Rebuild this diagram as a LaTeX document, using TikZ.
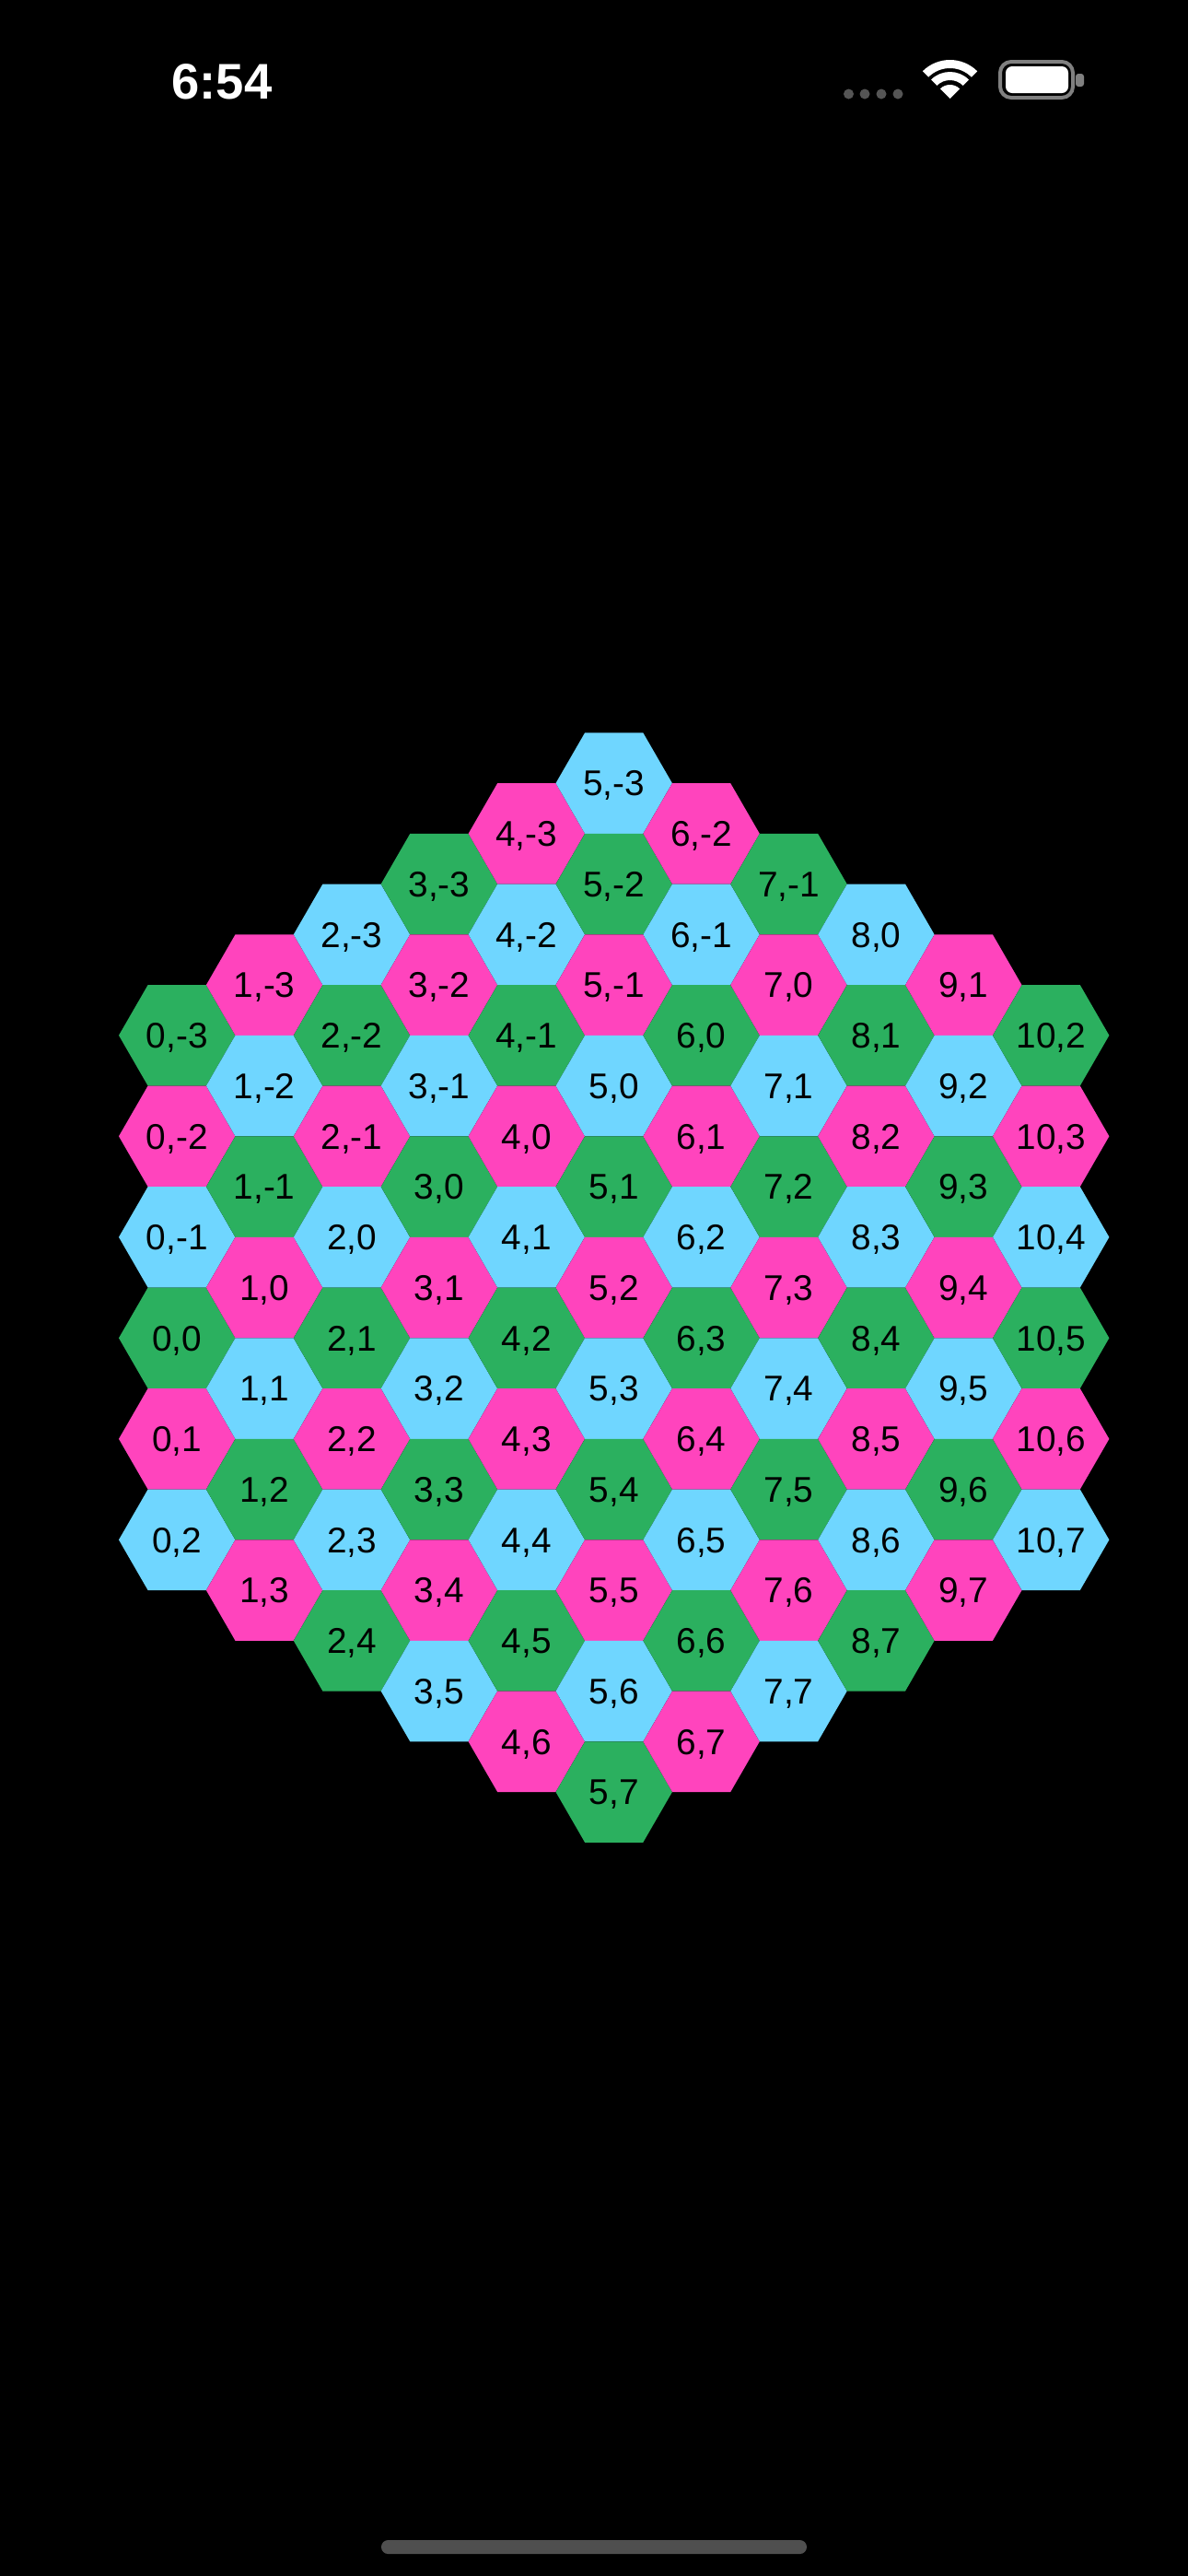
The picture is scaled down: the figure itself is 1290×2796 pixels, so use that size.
\documentclass[tikz,border=0pt]{standalone}
\usepackage{fontspec}
\setmainfont{Liberation Sans}
\usetikzlibrary{shapes.geometric}
\definecolor{hexblue}{HTML}{6FD6FF}
\definecolor{hexpink}{HTML}{FF44BD}
\definecolor{hexgreen}{HTML}{2BB05F}
\definecolor{dotgray}{HTML}{555555}
\definecolor{rimgray}{HTML}{808080}
\definecolor{bargray}{HTML}{4F4F4F}

\begin{document}
\begin{tikzpicture}[
    x=0.5pt, y=-0.5pt,
    hex/.style={regular polygon, regular polygon sides=6, minimum size=63.2pt, inner sep=0pt, outer sep=0pt,
        font=\fontsize{19.4}{23}\selectfont, text height=13.9pt, text depth=0pt},
    cell0/.style={hex, fill=hexgreen},
    cell1/.style={hex, fill=hexpink},
    cell2/.style={hex, fill=hexblue}
]
    \fill[black] (0,0) rectangle (1290,2796);
    \useasboundingbox (0,0) rectangle (1290,2796);

    % status bar
    \node[text=white, inner sep=0pt, font=\bfseries\fontsize{27.2}{32}\selectfont, text height=19.5pt, text depth=0pt] (clock) at (241,87.5) {6:54};
    \foreach \dx in {921.5,939,957,975}
        \fill[dotgray] (\dx,102) circle[radius=5.5];
    \fill[white] (1031.5,107) -- ++(225:15) arc[start angle=225, end angle=315, radius=15] -- cycle;
    \fill[white] (1031.5,107) ++(225:29) arc[start angle=225, end angle=315, radius=29] -- ++(135:9) arc[start angle=315, end angle=225, radius=20] -- cycle;
    \fill[white] (1031.5,107) ++(225:42) arc[start angle=225, end angle=315, radius=42] -- ++(135:9) arc[start angle=315, end angle=225, radius=33] -- cycle;
    \draw[rimgray, line width=2pt, rounded corners=6pt] (1086,67) rectangle (1165,106);
    \fill[white, rounded corners=3.5pt] (1092,72) rectangle (1160,101);
    \fill[rimgray, rounded corners=1.5pt] (1168,80) rectangle (1177,94);

    % hex grid
    \foreach \q in {0,...,10} {
        \foreach \r in {-3,...,7} {
            \pgfmathtruncatemacro{\inside}{abs(\q-\r-3)<6}
            \pgfmathtruncatemacro{\tint}{mod(\q+\r+30,3)}
            \ifnum\inside=1
                \node[cell\tint] (hex-\q-\r) at ({192.2+94.9*\q}, {1123.8+109.5*(\r+3)-54.75*\q}) {\q,\r};
            \fi
        }
    }

    \fill[bargray, rounded corners=3.7pt] (414,2757) rectangle (876,2772);
\end{tikzpicture}
\end{document}
